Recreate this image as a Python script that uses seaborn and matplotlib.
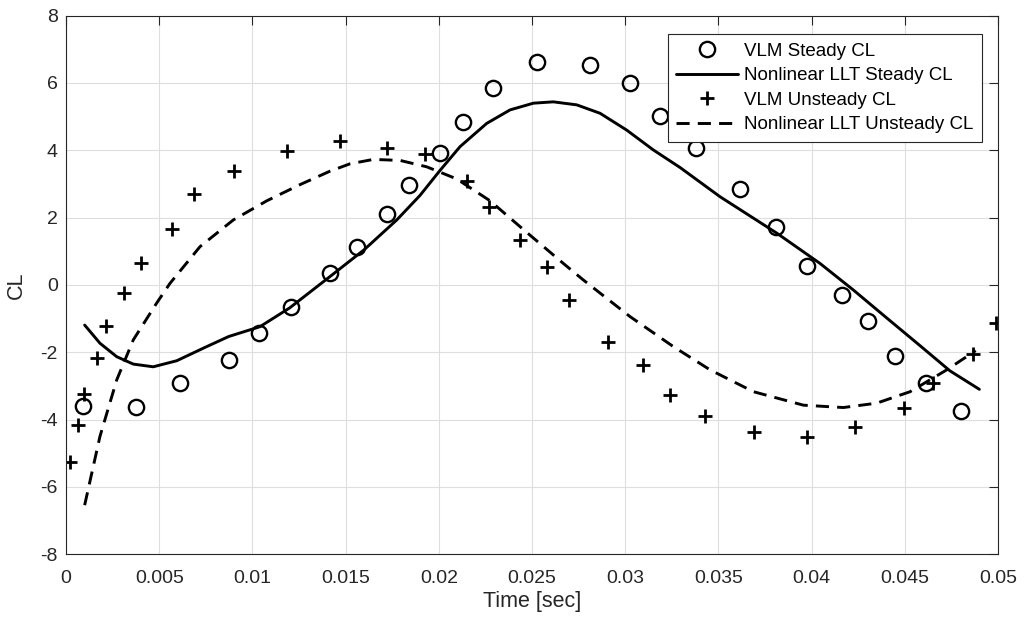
import matplotlib
matplotlib.use("Agg")
import matplotlib.pyplot as plt
import seaborn as sns

# VLM steady CL (circles)
vlm_steady_t = [0.00093, 0.00376, 0.00612, 0.00873, 0.01037, 0.01205, 0.01416, 0.01560,
                0.01724, 0.01842, 0.02006, 0.02128, 0.02292, 0.02528, 0.02813, 0.03026,
                0.03187, 0.03380, 0.03616, 0.03809, 0.03974, 0.04165, 0.04304, 0.04447,
                0.04614, 0.04802]
vlm_steady_cl = [-3.59, -3.61, -2.92, -2.23, -1.42, -0.66, 0.37, 1.12,
                 2.10, 2.97, 3.93, 4.83, 5.84, 6.62, 6.54, 5.99,
                 5.03, 4.06, 2.84, 1.73, 0.57, -0.30, -1.07, -2.11,
                 -2.92, -3.74]

# Nonlinear LLT steady CL (solid line)
llt_steady_t = [0.00100, 0.00182, 0.00272, 0.00361, 0.00468, 0.00594, 0.00747, 0.00873,
                0.01040, 0.01200, 0.01416, 0.01600, 0.01774, 0.01899, 0.02006, 0.02114,
                0.02257, 0.02382, 0.02507, 0.02614, 0.02740, 0.02865, 0.03008, 0.03151,
                0.03294, 0.03509, 0.03813, 0.04045, 0.04224, 0.04403, 0.04581, 0.04742,
                0.04900]
llt_steady_cl = [-1.19, -1.73, -2.13, -2.35, -2.43, -2.25, -1.85, -1.53,
                 -1.24, -0.68, 0.25, 1.05, 1.93, 2.66, 3.40, 4.11,
                 4.80, 5.20, 5.40, 5.44, 5.35, 5.10, 4.60, 4.01,
                 3.49, 2.62, 1.54, 0.64, -0.15, -0.98, -1.80, -2.55,
                 -3.10]

# VLM unsteady CL (plus markers)
vlm_unsteady_t = [0.00021, 0.00066, 0.00097, 0.00165, 0.00215, 0.00311, 0.00402, 0.00567,
                  0.00687, 0.00903, 0.01184, 0.01470, 0.01724, 0.01926, 0.02150, 0.02271,
                  0.02436, 0.02579, 0.02698, 0.02909, 0.03097, 0.03240, 0.03428, 0.03691,
                  0.03974, 0.04233, 0.04497, 0.04653, 0.04868, 0.04989]
vlm_unsteady_cl = [-5.25, -4.16, -3.24, -2.16, -1.22, -0.25, 0.64, 1.66,
                   2.69, 3.39, 3.99, 4.28, 4.06, 3.89, 3.09, 2.33,
                   1.34, 0.54, -0.45, -1.68, -2.38, -3.27, -3.89, -4.36,
                   -4.53, -4.23, -3.66, -2.92, -2.05, -1.14]

# Nonlinear LLT unsteady CL (dashed line)
llt_unsteady_t = [0.00100, 0.00182, 0.00272, 0.00361, 0.00486, 0.00558, 0.00719, 0.00897,
                  0.01077, 0.01255, 0.01416, 0.01524, 0.01649, 0.01792, 0.01935, 0.02096,
                  0.02275, 0.02453, 0.02668, 0.02775, 0.03026, 0.03258, 0.03455, 0.03688,
                  0.03956, 0.04170, 0.04349, 0.04528, 0.04725, 0.04880]
llt_unsteady_cl = [-6.54, -4.50, -2.82, -1.63, -0.54, 0.05, 1.14, 1.93,
                   2.50, 2.98, 3.38, 3.60, 3.73, 3.70, 3.51, 3.15,
                   2.50, 1.65, 0.64, 0.15, -0.94, -1.83, -2.52, -3.17,
                   -3.57, -3.64, -3.51, -3.17, -2.52, -1.95]

x_ticks = [0, 0.005, 0.01, 0.015, 0.02, 0.025, 0.03, 0.035, 0.04, 0.045, 0.05]
y_ticks = [-8, -6, -4, -2, 0, 2, 4, 6, 8]

dark = "#262626"
sns.set_theme(style="whitegrid", rc={
    "grid.color": "#dedede",
    "grid.linewidth": 0.8,
    "axes.edgecolor": dark,
    "axes.linewidth": 0.8,
    "axes.unicode_minus": False,
})
plt.rcParams["font.family"] = ["Liberation Sans", "DejaVu Sans"]

fig = plt.figure(figsize=(10.25, 6.26), dpi=100)
ax = fig.add_axes([0.0644, 0.1145, 0.9093, 0.8605])

sns.lineplot(x=vlm_steady_t, y=vlm_steady_cl, ax=ax, label="VLM Steady CL",
             linestyle="", marker="o", markersize=11, markerfacecolor="none",
             markeredgecolor="black", markeredgewidth=1.7, color="black", sort=False)
sns.lineplot(x=llt_steady_t, y=llt_steady_cl, ax=ax, label="Nonlinear LLT Steady CL",
             color="black", linewidth=2.1, sort=False)
sns.lineplot(x=vlm_unsteady_t, y=vlm_unsteady_cl, ax=ax, label="VLM Unsteady CL",
             linestyle="", marker="+", markersize=10, markeredgecolor="black",
             markeredgewidth=2, color="black", sort=False)
sns.lineplot(x=llt_unsteady_t, y=llt_unsteady_cl, ax=ax, label="Nonlinear LLT Unsteady CL",
             color="black", linewidth=2.1, sort=False)
ax.lines[-1].set_dashes([4.5, 2.8])

ax.set_xlim(0, 0.05)
ax.set_ylim(-8, 8)
ax.set_xticks(x_ticks)
ax.set_xticklabels(["%g" % v for v in x_ticks])
ax.set_yticks(y_ticks)
ax.set_yticklabels(["%d" % v for v in y_ticks])
ax.tick_params(direction="in", top=True, right=True, length=6.5, width=0.8,
               color=dark, labelcolor=dark, labelsize=14)
ax.tick_params(axis="x", pad=11.5)
ax.tick_params(axis="y", pad=6)
for s in ax.spines.values():
    s.set_color(dark)
    s.set_linewidth(0.8)

ax.set_xlabel("Time [sec]", fontsize=15.5, color=dark)
ax.set_ylabel("CL", fontsize=15.5, color=dark)
ax.xaxis.set_label_coords(0.5, -0.087)
ax.xaxis.label.set_va("center")
ax.yaxis.set_label_coords(-0.0536, 0.5)
ax.yaxis.label.set_va("center")

leg = ax.legend(loc="upper right", bbox_to_anchor=(0.9825, 0.966), borderaxespad=0,
                fancybox=False, framealpha=1, edgecolor=dark, fontsize=13.5,
                handlelength=3.3, handletextpad=0.3, labelspacing=0.4, borderpad=0.45)
leg.get_frame().set_linewidth(0.8)
for t in leg.get_texts():
    t.set_color("black")

fig.savefig("out.png", dpi=100)
